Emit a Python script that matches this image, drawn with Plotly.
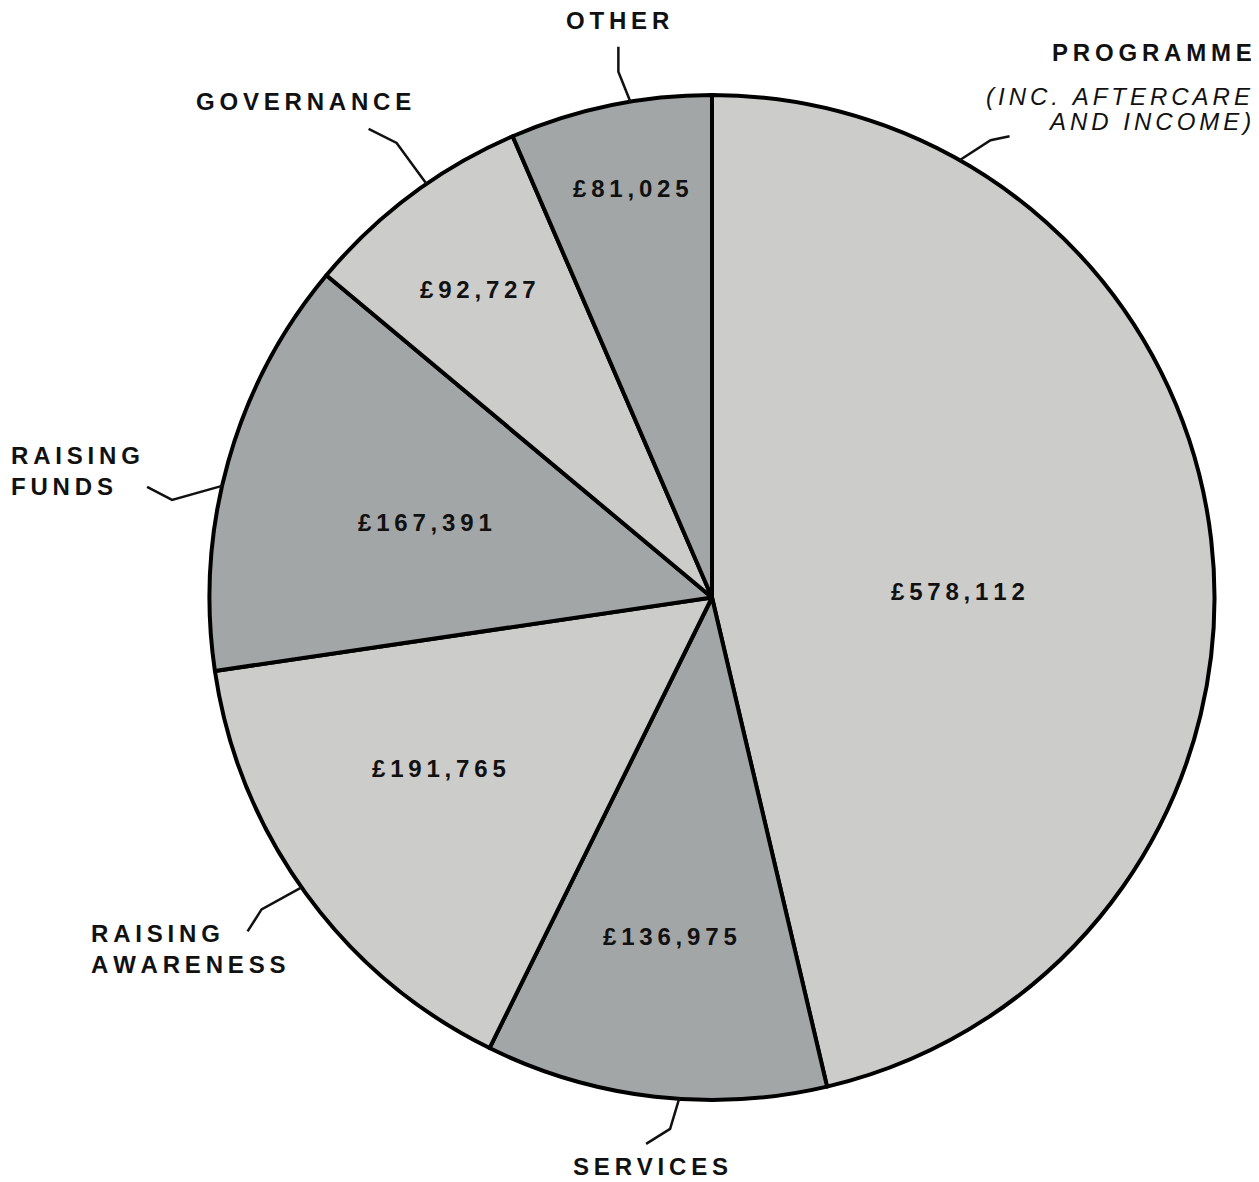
import math
import plotly.graph_objects as go

W, H = 1259, 1182
OFF = 8  # default page body margin
FW, FH = W - OFF, H - OFF

# ---- data ----
categories = ["PROGRAMME", "SERVICES", "RAISING AWARENESS", "RAISING FUNDS", "GOVERNANCE", "OTHER"]
values = [578112, 136975, 191765, 167391, 92727, 81025]
colors = ["#cccccb", "#a3a6a7", "#cccccb", "#a3a6a7", "#cccccb", "#a3a6a7"]
subnote_lines = ["(INC. AFTERCARE", "AND INCOME)"]

# ---- layout constants (page pixels) ----
CX, CY, R = 712, 597.5, 502.5
# value label placement: angle offset (deg) from slice middle, radius fraction
val_pos = [(5.3, 0.49), (0.5, 0.68), (4, 0.64), (-1, 0.59), (-0.5, 0.77), (0.5, 0.83)]
# leader anchor as fraction of slice span; elbow and end offsets from anchor (px)
leader = [
    (0.177, (31, -20), (50, -24)),
    (0.43, (-9, 30), (-33, 45)),
    (0.515, (-40, 22), (-54, 44)),
    (0.44, (-50, 14), (-75, 1)),
    (0.58, (-30, -41), (-58, -55)),
    (0.60, (-12, -30), (-12, -55)),
]
# category label anchors: (x, y, xanchor)
cat_pos = [
    (1254, 52, "right"),
    (650, 1166, "center"),
    (89, 949, "left"),
    (9, 471, "left"),
    (194, 102, "left"),
    (617, 21, "center"),
]
sub_pos = [(1253, 96), (1253, 122)]

SP = "\u2009"
SUBSP = "\u2006"
FONT = "Liberation Sans, Arial, sans-serif"


def spaced(s, sp=SP):
    return "<br>".join(sp.join(list(line)) for line in s.split("<br>"))


def px2paper(x, y):
    return (x - OFF) / FW, 1 - (y - OFF) / FH


def pt(angle_deg, r):
    a = math.radians(angle_deg)
    return CX + r * math.sin(a), CY - r * math.cos(a)


dx0, dy1 = px2paper(CX - R, CY - R)
dx1, dy0 = px2paper(CX + R, CY + R)

fig = go.Figure(
    go.Pie(
        labels=categories,
        values=values,
        sort=False,
        direction="clockwise",
        rotation=0,
        marker=dict(colors=colors, line=dict(color="#000000", width=4)),
        textinfo="none",
        hoverinfo="label+value",
        domain=dict(x=[dx0, dx1], y=[dy0, dy1]),
        showlegend=False,
    )
)

total = sum(values)
annotations = []
shapes = []
cum = 0.0
for i, v in enumerate(values):
    start = cum / total * 360
    span = v / total * 360
    cum += v
    mid = start + span / 2
    da, rf = val_pos[i]
    x, y = pt(mid + da, rf * R)
    ax, ay = px2paper(x, y)
    annotations.append(dict(
        x=ax, y=ay, xref="paper", yref="paper", showarrow=False,
        text=spaced("£{:,}".format(v)), xanchor="center", yanchor="middle",
        font=dict(family=FONT, size=24, color="#111111", weight="bold"),
    ))
    frac, el, en = leader[i]
    x0, y0 = pt(start + frac * span, R)
    x1, y1 = x0 + el[0], y0 + el[1]
    x2, y2 = x0 + en[0], y0 + en[1]
    p = [px2paper(x0, y0), px2paper(x1, y1), px2paper(x2, y2)]
    shapes.append(dict(
        type="path", xref="paper", yref="paper",
        path="M {} {} L {} {} L {} {}".format(p[0][0], p[0][1], p[1][0], p[1][1], p[2][0], p[2][1]),
        line=dict(color="#111111", width=2.5),
    ))
    lx, ly, xa = cat_pos[i]
    text = categories[i].replace(" ", "<br>")
    lpx, lpy = px2paper(lx, ly)
    annotations.append(dict(
        x=lpx, y=lpy, xref="paper", yref="paper", showarrow=False,
        text=spaced(text), xanchor=xa, yanchor="middle", align=xa,
        font=dict(family=FONT, size=24, color="#111111", weight="bold"),
    ))

for line, (sx0, sy0) in zip(subnote_lines, sub_pos):
    sx, sy = px2paper(sx0, sy0)
    annotations.append(dict(
        x=sx, y=sy, xref="paper", yref="paper", showarrow=False,
        text=spaced(line, SUBSP), xanchor="right", yanchor="middle", align="right",
        font=dict(family=FONT, size=24, color="#111111", style="italic"),
    ))

fig.update_layout(
    width=FW, height=FH,
    margin=dict(l=0, r=0, t=0, b=0),
    paper_bgcolor="#ffffff",
    plot_bgcolor="#ffffff",
    annotations=annotations,
    shapes=shapes,
)

fig.write_html("out.html")
